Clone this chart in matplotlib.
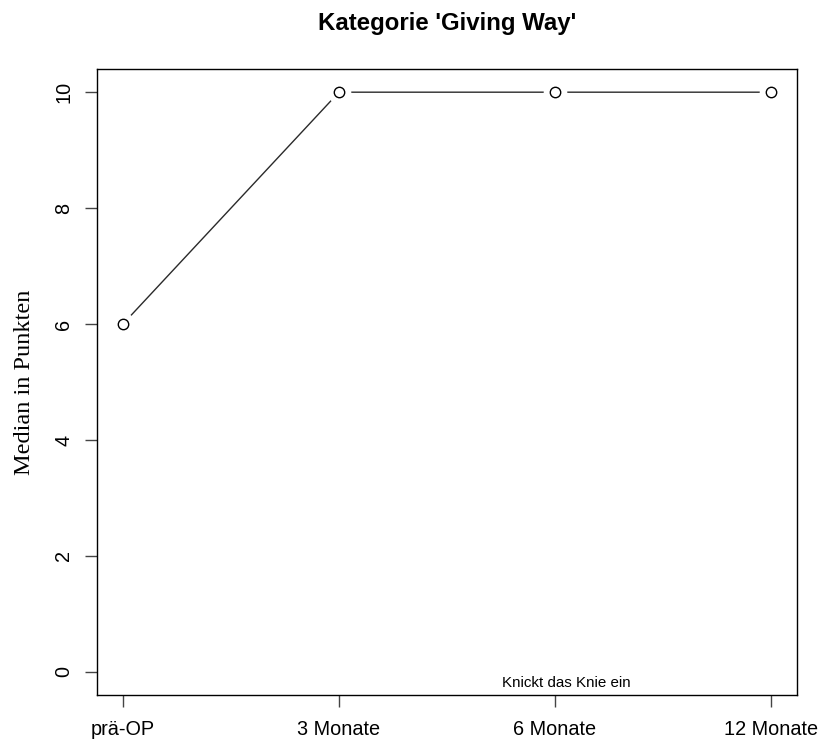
import matplotlib
matplotlib.use('Agg')
import matplotlib.pyplot as plt

zeitpunkte = ['prä-OP', '3 Monate', '6 Monate', '12 Monate']
median_punkte = [6, 10, 10, 10]
y_ticks = [0, 2, 4, 6, 8, 10]

W, H = 819, 743
fig = plt.figure(figsize=(W / 100, H / 100), dpi=100)
ax = fig.add_axes([97 / W, 1 - 695 / H, 700 / W, 626 / H])

x = list(range(1, len(zeitpunkte) + 1))

# type="b": line with gaps around the points (white halo under the markers)
ax.plot(x, median_punkte, color='#2a2a2a', lw=1.0, zorder=1)
ax.plot(x, median_punkte, ls='none', marker='o', ms=17, mfc='white', mec='none', zorder=2)
ax.plot(x, median_punkte, ls='none', marker='o', ms=7.5, mfc='white', mec='black', mew=1.0, zorder=3)

ax.set_xlim(0.88, 4.12)
ax.set_ylim(-0.4, 10.4)
ax.set_xticks(x)
ax.set_xticklabels(zeitpunkte)
ax.set_yticks(y_ticks)
ax.set_yticklabels([str(v) for v in y_ticks], rotation=90, va='center')

for s in ax.spines.values():
    s.set_linewidth(1.0)
    s.set_color('black')

ax.tick_params(axis='both', direction='out', length=8.5, width=1.0, color='#444444',
               labelsize=14.3, labelcolor='black')
ax.tick_params(axis='x', pad=9.5)
ax.tick_params(axis='y', pad=8.5)
for lab in ax.get_xticklabels() + ax.get_yticklabels():
    lab.set_family(['Liberation Sans', 'DejaVu Sans'])

ax.set_ylabel('Median in Punkten', family='Liberation Serif', fontsize=17.5, labelpad=14)

ax.text(3.05, -0.19, 'Knickt das Knie ein', ha='center', va='center',
        fontsize=10.9, family=['Liberation Sans', 'DejaVu Sans'])

fig.text(447 / W, 1 - 30 / H, "Kategorie 'Giving Way'", ha='center', va='baseline',
         fontsize=17.3, fontweight='bold', family=['Liberation Sans', 'DejaVu Sans'])

fig.savefig('out.png', dpi=100)
